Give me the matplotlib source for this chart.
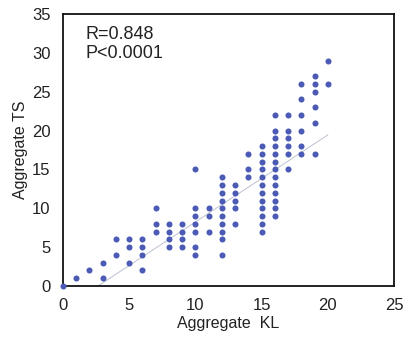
import numpy as np
import matplotlib
matplotlib.use("Agg")
import matplotlib.pyplot as plt

plt.rcParams["font.family"] = ["Liberation Sans", "DejaVu Sans"]

# Aggregate TS values at each Aggregate KL score
ts_by_kl = {
    0: [0],
    1: [1],
    2: [2],
    3: [3, 1],
    4: [6, 4],
    5: [6, 5, 3],
    6: [6, 5, 4, 2],
    7: [10, 8, 7],
    8: [8, 7, 6, 5],
    9: [8, 7, 6, 5],
    10: [15, 10, 9, 8, 7, 5, 4],
    11: [10, 9, 7],
    12: [14, 13, 12, 11, 10, 9, 8, 7, 6, 4],
    13: [13, 12, 11, 10, 8],
    14: [17, 15, 14],
    15: [18, 17, 16, 15, 14, 13, 12, 11, 10, 9, 8, 7],
    16: [22, 20, 19, 18, 17, 16, 15, 14, 13, 12, 11, 10, 9],
    17: [22, 20, 19, 18, 17, 15],
    18: [26, 24, 22, 20, 18, 17],
    19: [27, 26, 25, 23, 21, 17],
    20: [29, 26],
}

kl = np.array([k for k, v in ts_by_kl.items() for _ in v])
ts = np.array([t for v in ts_by_kl.values() for t in v])

# trendline
trend_slope = 1.12
trend_intercept = -2.96
trend_x = [2.65, 20]

fig = plt.figure(figsize=(4.03, 3.39), dpi=100)
ax = fig.add_axes([63 / 403, 1 - 286 / 339, 331 / 403, 272 / 339])

ax.scatter(kl, ts, s=19, color="#4B5AB5", zorder=3, clip_on=False, linewidths=0)
tx = np.array(trend_x)
ax.plot(tx, trend_slope * tx + trend_intercept, color="#bcc1cf", lw=0.7, zorder=2)

ax.set_xlim(0, 25)
ax.set_ylim(0, 35)
ax.set_xticks(range(0, 26, 5))
ax.set_yticks(range(0, 36, 5))
ax.tick_params(length=0, labelsize=12, colors="#222222")
ax.tick_params(axis="x", pad=9)
ax.tick_params(axis="y", pad=9)
for s in ax.spines.values():
    s.set_linewidth(1.3)
    s.set_color("#111111")

ax.set_xlabel("Aggregate  KL", fontsize=11.5, color="#222222", labelpad=2)
ax.set_ylabel("Aggregate TS", fontsize=11.5, color="#222222", labelpad=3)

ax.text(0.068, 0.955, "R=0.848\nP<0.0001", transform=ax.transAxes, fontsize=13,
        va="top", ha="left", linespacing=1.1, color="#222222")

fig.savefig("out.png", dpi=100)
